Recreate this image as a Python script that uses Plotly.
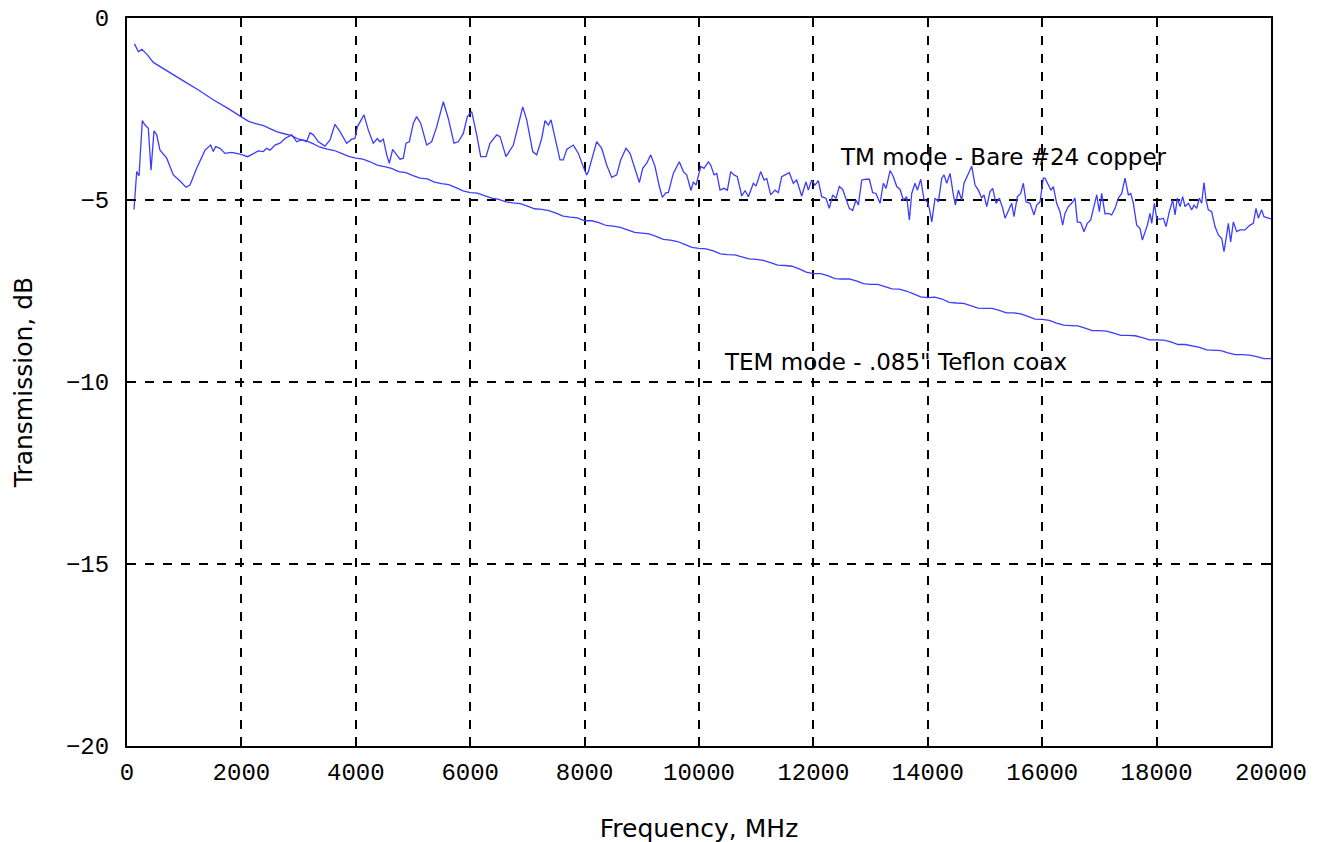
import plotly.graph_objects as go

# TM mode - bare #24 copper (frequency MHz, transmission dB)
tm_freq = [122, 170, 210, 268, 315, 373, 420, 472, 519, 577, 694, 810, 927, 1031, 1101, 1218,
           1364, 1463, 1509, 1550, 1626, 1713, 1830, 1976, 2110, 2209, 2296, 2383, 2442, 2500,
           2587, 2675, 2762, 2879, 2967, 3054, 3141, 3199, 3258, 3345, 3462, 3549, 3636, 3724,
           3840, 3928, 3986, 4027, 4143, 4219, 4306, 4376, 4423, 4481, 4540, 4586, 4645, 4715,
           4773, 4831, 4878, 4936, 5006, 5064, 5134, 5239, 5326, 5414, 5530, 5617, 5717, 5792,
           5880, 5950, 6026, 6114, 6184, 6276, 6346, 6463, 6521, 6626, 6754, 6841, 6918, 6988,
           7093, 7162, 7250, 7308, 7366, 7413, 7483, 7570, 7628, 7687, 7803, 7891, 7978, 8037,
           8066, 8211, 8299, 8386, 8474, 8561, 8631, 8724, 8794, 8881, 8957, 9016, 9086, 9156,
           9231, 9307, 9359, 9423, 9464, 9551, 9656, 9726, 9785, 9860, 9901, 9948, 10030, 10088,
           10163, 10205, 10263, 10310, 10368, 10437, 10496, 10554, 10612, 10670, 10747, 10805,
           10863, 10951, 10997, 11079, 11137, 11184, 11254, 11329, 11387, 11446, 11504, 11579,
           11649, 11708, 11795, 11871, 11911, 11970, 12028, 12086, 12145, 12220, 12278, 12337,
           12395, 12453, 12512, 12570, 12628, 12687, 12745, 12786, 12845, 12920, 12978, 13037,
           13095, 13165, 13223, 13270, 13340, 13398, 13457, 13515, 13573, 13632, 13678, 13719,
           13777, 13818, 13876, 13934, 13992, 14027, 14069, 14127, 14185, 14244, 14284, 14331,
           14389, 14447, 14482, 14535, 14593, 14633, 14691, 14768, 14826, 14884, 14943, 14983,
           15030, 15088, 15135, 15193, 15251, 15310, 15350, 15408, 15467, 15507, 15565, 15624,
           15670, 15717, 15787, 15857, 15904, 15962, 16020, 16049, 16107, 16154, 16195, 16253,
           16311, 16358, 16398, 16457, 16515, 16573, 16614, 16673, 16731, 16789, 16848, 16906,
           16953, 16999, 17040, 17098, 17156, 17215, 17273, 17331, 17390, 17448, 17506, 17548,
           17594, 17652, 17710, 17751, 17798, 17839, 17885, 17915, 17961, 18002, 18060, 18118,
           18165, 18223, 18282, 18322, 18363, 18410, 18456, 18497, 18555, 18614, 18654, 18701,
           18747, 18788, 18829, 18864, 18904, 18963, 19021, 19080, 19138, 19178, 19225, 19254,
           19295, 19342, 19400, 19458, 19545, 19633, 19691, 19738, 19778, 19837, 19877, 19953,
           20000]
tm_db = [-5.26, -4.22, -4.34, -2.82, -2.94, -3.03, -4.18, -3.10, -3.21, -3.63, -3.85, -4.31,
         -4.48, -4.65, -4.59, -4.13, -3.63, -3.49, -3.67, -3.53, -3.58, -3.72, -3.69, -3.74,
         -3.81, -3.72, -3.65, -3.67, -3.58, -3.63, -3.49, -3.44, -3.31, -3.21, -3.40, -3.35,
         -3.40, -3.15, -3.21, -3.40, -3.52, -3.35, -2.92, -3.12, -3.44, -3.33, -3.31, -2.99,
         -2.66, -3.08, -3.44, -3.31, -3.40, -3.33, -3.76, -3.99, -3.61, -3.76, -3.88, -3.85,
         -3.44, -3.40, -2.89, -2.71, -2.89, -3.49, -3.40, -2.99, -2.30, -2.76, -3.44, -3.40,
         -3.17, -2.71, -2.57, -3.21, -3.81, -3.81, -3.44, -3.21, -3.26, -3.81, -3.49, -2.94,
         -2.44, -2.80, -3.67, -3.76, -3.31, -2.82, -2.94, -2.80, -3.26, -3.90, -3.90, -3.61,
         -3.49, -3.72, -4.09, -4.31, -4.22, -3.40, -3.58, -4.04, -4.38, -4.31, -3.90, -3.58,
         -3.72, -4.18, -4.52, -4.13, -3.99, -3.76, -4.08, -4.63, -4.93, -4.80, -4.80, -4.27,
         -3.95, -4.22, -4.31, -4.74, -4.50, -4.59, -4.08, -4.13, -3.95, -4.04, -4.31, -4.27,
         -4.73, -4.68, -4.73, -4.22, -4.31, -4.36, -4.89, -4.74, -4.91, -4.54, -4.62, -4.22,
         -4.45, -4.41, -4.86, -4.73, -4.80, -4.36, -4.31, -4.25, -4.54, -4.45, -4.89, -4.50,
         -4.73, -4.45, -4.59, -4.47, -4.91, -4.95, -5.23, -4.86, -4.95, -4.63, -4.71, -4.95,
         -5.23, -5.29, -5.00, -5.14, -4.45, -4.43, -4.43, -4.80, -4.82, -5.09, -4.54, -4.68,
         -4.19, -4.36, -4.63, -4.71, -5.00, -4.91, -5.55, -4.82, -4.54, -4.73, -4.43, -4.98,
         -5.05, -5.23, -5.60, -4.95, -5.05, -4.40, -4.31, -4.54, -4.27, -4.86, -5.14, -4.73,
         -5.00, -4.54, -4.34, -4.07, -4.59, -4.73, -4.95, -4.86, -5.18, -4.77, -4.68, -5.09,
         -4.95, -5.23, -5.50, -5.27, -5.09, -5.46, -4.91, -4.82, -4.54, -5.05, -5.09, -5.41,
         -5.14, -5.05, -4.40, -4.40, -4.59, -4.73, -4.63, -5.09, -5.32, -5.69, -5.37, -5.18,
         -5.09, -4.95, -5.60, -5.62, -5.87, -5.64, -5.55, -5.18, -4.86, -5.32, -4.82, -5.38,
         -5.37, -5.41, -5.23, -4.95, -4.82, -4.40, -4.86, -4.82, -5.09, -5.69, -5.78, -6.10,
         -5.87, -5.69, -5.37, -5.64, -5.09, -5.50, -5.53, -5.50, -5.73, -5.32, -5.00, -5.41,
         -4.95, -5.18, -4.91, -5.18, -5.09, -5.27, -5.14, -5.23, -4.95, -5.09, -4.52, -5.00,
         -5.27, -5.32, -5.73, -5.96, -6.05, -6.42, -5.96, -5.64, -6.15, -5.60, -5.87, -5.82,
         -5.82, -5.69, -5.64, -5.23, -5.50, -5.27, -5.46, -5.50, -5.52]

# TEM mode - .085" Teflon coax
tem_freq = [130, 200, 260, 350, 460, 600, 800, 1000, 1250, 1500, 1750,
            2000, 2125, 2250, 2375, 2500, 2625, 2750, 2875, 3000, 3125, 3250, 3375, 3500, 3625,
            3750, 3875, 4000, 4125, 4250, 4375, 4500, 4625, 4750, 4875, 5000, 5125, 5250, 5375,
            5500, 5625, 5750, 5875, 6000, 6125, 6250, 6375, 6500, 6625, 6750, 6875, 7000, 7125,
            7250, 7375, 7500, 7625, 7750, 7875, 8000, 8125, 8250, 8375, 8500, 8625, 8750, 8875,
            9000, 9125, 9250, 9375, 9500, 9625, 9750, 9875, 10000, 10125, 10250, 10375, 10500,
            10625, 10750, 10875, 11000, 11125, 11250, 11375, 11500, 11625, 11750, 11875, 12000,
            12125, 12250, 12375, 12500, 12625, 12750, 12875, 13000, 13125, 13250, 13375, 13500,
            13625, 13750, 13875, 14000, 14125, 14250, 14375, 14500, 14625, 14750, 14875, 15000,
            15125, 15250, 15375, 15500, 15625, 15750, 15875, 16000, 16125, 16250, 16375, 16500,
            16625, 16750, 16875, 17000, 17125, 17250, 17375, 17500, 17625, 17750, 17875, 18000,
            18125, 18250, 18375, 18500, 18625, 18750, 18875, 19000, 19125, 19250, 19375, 19500,
            19625, 19750, 19875, 20000]
tem_db = [-0.71, -0.93, -0.86, -1.00, -1.22, -1.35, -1.55, -1.74, -1.98, -2.24, -2.47,
          -2.72, -2.84, -2.90, -2.95, -3.04, -3.13, -3.18, -3.23, -3.33, -3.37, -3.45, -3.55,
          -3.60, -3.64, -3.72, -3.80, -3.85, -3.88, -3.95, -4.04, -4.08, -4.13, -4.22, -4.25,
          -4.33, -4.40, -4.42, -4.51, -4.55, -4.58, -4.66, -4.75, -4.80, -4.81, -4.88, -4.95,
          -4.98, -5.05, -5.08, -5.10, -5.17, -5.24, -5.26, -5.29, -5.36, -5.44, -5.47, -5.49,
          -5.57, -5.57, -5.62, -5.70, -5.72, -5.75, -5.82, -5.89, -5.91, -5.93, -6.00, -6.08,
          -6.10, -6.14, -6.22, -6.30, -6.33, -6.34, -6.40, -6.48, -6.50, -6.51, -6.56, -6.62,
          -6.63, -6.66, -6.72, -6.79, -6.80, -6.82, -6.89, -6.98, -7.02, -7.02, -7.08, -7.16,
          -7.17, -7.17, -7.22, -7.30, -7.32, -7.32, -7.38, -7.44, -7.45, -7.50, -7.58, -7.66,
          -7.68, -7.67, -7.72, -7.81, -7.83, -7.84, -7.90, -7.97, -7.98, -7.98, -8.03, -8.10,
          -8.10, -8.13, -8.20, -8.27, -8.28, -8.31, -8.38, -8.44, -8.45, -8.46, -8.52, -8.59,
          -8.59, -8.60, -8.66, -8.72, -8.72, -8.73, -8.78, -8.84, -8.84, -8.85, -8.90, -8.97,
          -8.97, -9.00, -9.05, -9.12, -9.12, -9.14, -9.20, -9.25, -9.25, -9.26, -9.30, -9.36,
          -9.36]

labels = ["TM mode - Bare #24 copper", "TEM mode - .085\" Teflon coax"]
label_x = [12430, 10400]
label_y = [-3.82, -9.45]

line_color = "#3c3cff"
fig = go.Figure()
fig.add_trace(go.Scatter(x=tm_freq, y=tm_db, mode="lines",
                         line=dict(color=line_color, width=1.3), showlegend=False))
fig.add_trace(go.Scatter(x=tem_freq, y=tem_db, mode="lines",
                         line=dict(color=line_color, width=1.3), showlegend=False))

for t, x, y in zip(labels, label_x, label_y):
    fig.add_annotation(x=x, y=y, text=t, showarrow=False, xanchor="left", yanchor="middle",
                       font=dict(family="DejaVu Sans", size=23, color="black"))

tick_font = dict(family="Liberation Mono", size=24, color="black")
title_font = dict(family="DejaVu Sans", size=25, color="black")
common = dict(showgrid=True, gridcolor="black", griddash="dash", gridwidth=1.6,
              zeroline=False, showline=True, linecolor="black", linewidth=2,
              mirror="ticks", ticks="inside", ticklen=9, tickcolor="black", tickwidth=1.5,
              tickfont=tick_font, ticklabeloverflow="allow")
fig.update_xaxes(range=[0, 20000], dtick=2000, tick0=0, tickformat="d", ticklabelstandoff=3,
                 title=dict(text="Frequency, MHz", font=title_font, standoff=34), **common)
fig.update_yaxes(range=[-20, 0], dtick=5, tick0=0, ticklabelstandoff=11,
                 title=dict(text="Transmission, dB", font=title_font, standoff=26), **common)
fig.update_layout(width=1324, height=842, plot_bgcolor="white", paper_bgcolor="white",
                  margin=dict(l=119, r=61, t=10, b=104, autoexpand=False))
fig.write_html("out.html")
